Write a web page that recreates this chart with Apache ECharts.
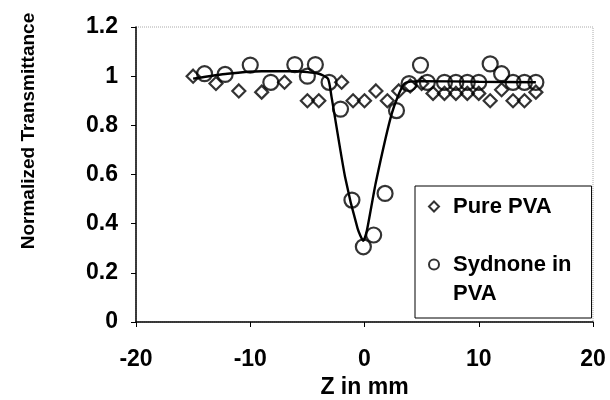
<!DOCTYPE html>
<html>
<head>
<meta charset="utf-8">
<script src="https://cdn.jsdelivr.net/npm/echarts@6/dist/echarts.min.js"></script>
<style>
  html, body { margin: 0; padding: 0; background: #fff; }
  #chart { width: 610px; height: 400px; }
</style>
</head>
<body>
<div id="chart"></div>
<script>
// Pure PVA (diamonds)
const pureZ = [-15, -13, -11, -9, -7, -5, -4, -2, -1, 0, 1, 2, 3, 4, 5, 6, 7, 8, 9, 10, 11, 12, 13, 14, 15]
const pureT = [1.0, 0.97, 0.94, 0.935, 0.975, 0.9, 0.9, 0.975, 0.9, 0.9, 0.94, 0.9, 0.94, 0.96, 0.97, 0.93, 0.93, 0.93, 0.93, 0.93, 0.9, 0.945, 0.9, 0.9, 0.935]

// Sydnone in PVA (circles)
const sydZ = [-14, -12.2, -10, -8.2, -6.1, -5, -4.3, -3.1, -2.1, -1.1, -0.1, 0.8, 1.8, 2.8, 3.9, 4.9, 5.5, 7, 8, 9, 10, 11, 12, 13, 14, 15]
const sydT = [1.01, 1.007, 1.045, 0.975, 1.047, 1.0, 1.047, 0.975, 0.866, 0.496, 0.306, 0.354, 0.523, 0.86, 0.97, 1.045, 0.975, 0.975, 0.975, 0.975, 0.975, 1.05, 1.01, 0.975, 0.975, 0.975]

// fitted curve
const fitZ = [-15, -12, -9, -6, -4, -3.2, -2.9, -1.7, -0.6, -0.1, 0.2, 1, 2.4, 3.5, 5, 10, 15]
const fitT = [0.99, 1.01, 1.02, 1.02, 1.01, 0.99, 0.92, 0.59, 0.38, 0.33, 0.37, 0.57, 0.85, 0.97, 0.98, 0.977, 0.975]

const yTicks = [0, 0.2, 0.4, 0.6, 0.8, 1, 1.2]

const zip = (xs, ys) => xs.map((x, i) => [x, ys[i]])

const font = 'Liberation Sans, Arial, sans-serif'
let chart = echarts.init(document.getElementById('chart'))

chart.setOption({
    backgroundColor: '#fff',
    animation: false,
    grid: {
        left: 136, right: 17, top: 27, bottom: 78,
        outerBoundsMode: 'none',
        show: true,
        borderColor: '#aaa',
        borderWidth: 1,
        borderType: 'dotted'
    },
    legend: {
        data: ['Pure PVA', 'Sydnone in PVA'],
        orient: 'vertical',
        left: 415,
        top: 186,
        padding: [6, 20, 10, 13],
        itemGap: 0,
        itemWidth: 10,
        itemHeight: 10,
        borderColor: '#000',
        borderWidth: 1,
        backgroundColor: '#fff',
        formatter: name => name === 'Sydnone in PVA' ? '\nSydnone in\nPVA' : name,
        textStyle: {
            fontFamily: font,
            fontWeight: 'bold',
            fontSize: 22,
            lineHeight: 29,
            color: '#000',
            padding: [0, 0, 0, 9]
        }
    },
    xAxis: {
        type: 'value',
        min: -20, max: 20, interval: 10,
        name: 'Z in mm',
        nameLocation: 'middle',
        nameGap: 51,
        nameTextStyle: { fontFamily: font, fontWeight: 'bold', fontSize: 23, color: '#000' },
        axisLine: { lineStyle: { color: '#000', width: 1.5 } },
        axisTick: { show: true, length: 5, lineStyle: { color: '#000' } },
        axisLabel: { fontFamily: font, fontWeight: 'bold', fontSize: 23, color: '#000', margin: 26 },
        splitLine: { show: false }
    },
    yAxis: {
        type: 'value',
        min: 0, max: 1.2, interval: 0.2,
        name: 'Normalized Transmittance',
        nameLocation: 'middle',
        nameGap: 98,
        nameTextStyle: {
            fontFamily: font, fontWeight: 'bold', fontSize: 19, color: '#000',
            padding: [0, 0, 0, 87]
        },
        axisLine: { show: true, onZero: false, lineStyle: { color: '#000', width: 1.5 } },
        axisTick: { show: true, length: 5, lineStyle: { color: '#000' } },
        axisLabel: {
            fontFamily: font, fontWeight: 'bold', fontSize: 23, color: '#000', margin: 18,
            formatter: v => String(yTicks.find(t => Math.abs(t - v) < 1e-9) ?? v)
        },
        splitLine: { show: false }
    },
    series: [
        {
            name: 'Pure PVA',
            type: 'scatter',
            symbol: 'diamond',
            symbolSize: [13, 13],
            itemStyle: { color: 'rgba(255,255,255,0)', borderColor: '#000', borderWidth: 2.2 },
            data: zip(pureZ, pureT),
            z: 2
        },
        {
            name: 'Sydnone in PVA',
            type: 'scatter',
            symbol: 'circle',
            symbolSize: 15,
            itemStyle: { color: 'rgba(255,255,255,0)', borderColor: '#000', borderWidth: 2.2 },
            data: zip(sydZ, sydT),
            z: 2
        },
        {
            name: 'fit',
            type: 'line',
            showSymbol: false,
            smooth: 0.2,
            lineStyle: { color: '#000', width: 2.4 },
            data: zip(fitZ, fitT),
            z: 3
        }
    ]
})
</script>
</body>
</html>
